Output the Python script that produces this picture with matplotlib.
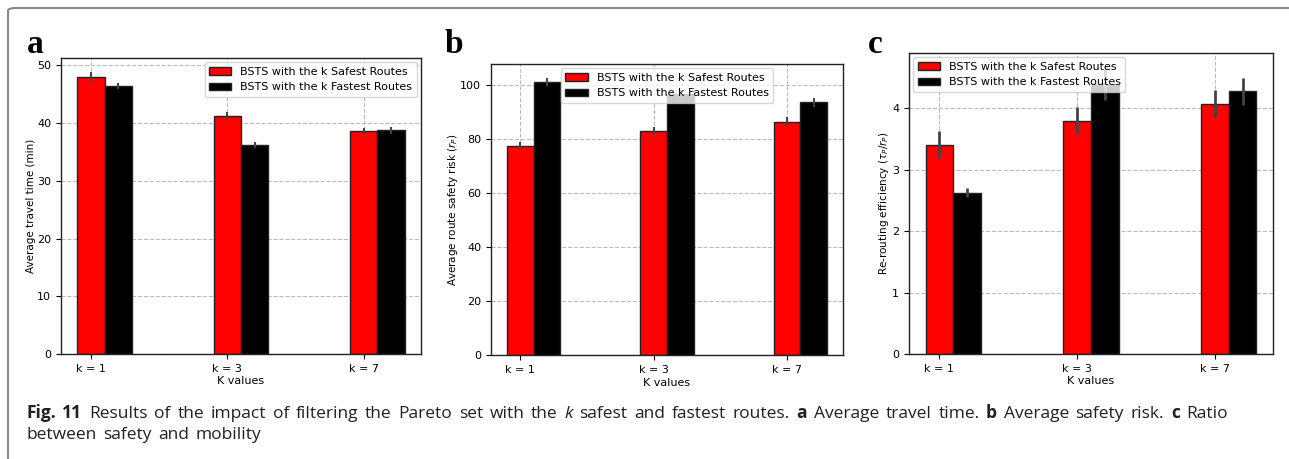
import matplotlib
matplotlib.use("Agg")
import matplotlib.pyplot as plt
from matplotlib.patches import FancyBboxPatch
import numpy as np

# data
k_labels = ['k = 1', 'k = 3', 'k = 7']

time_safe = [48.0, 41.2, 38.6]
time_safe_err = [0.85, 0.7, 0.6]
time_fast = [46.4, 36.2, 38.8]
time_fast_err = [0.5, 0.5, 0.6]

risk_safe = [77.6, 83.0, 86.6]
risk_safe_err = [1.3, 1.5, 1.5]
risk_fast = [101.2, 96.7, 93.7]
risk_fast_err = [1.6, 1.5, 1.6]

eff_safe = [3.41, 3.80, 4.08]
eff_safe_err = [0.22, 0.22, 0.22]
eff_fast = [2.63, 4.40, 4.28]
eff_fast_err = [0.07, 0.27, 0.22]

leg_labels = ['BSTS with the k Safest Routes', 'BSTS with the k Fastest Routes']

W, H = 1289, 459
fig = plt.figure(figsize=(W / 100, H / 100), dpi=100)


def box(x0, y0, x1, y1):
    # pixel box (from top-left) -> figure fraction rect
    return [x0 / W, 1 - y1 / H, (x1 - x0) / W, (y1 - y0) / H]


def panel(rect, safe, safe_err, fast, fast_err, ylabel, loc, ticks, elw):
    ax = fig.add_axes(rect)
    x = np.arange(len(k_labels))
    w = 0.2
    ekw = dict(ecolor='#444444', elinewidth=elw, capsize=0)
    ax.bar(x, safe, w, yerr=safe_err, color='red', edgecolor='#222222',
           linewidth=1, error_kw=ekw, label=leg_labels[0])
    ax.bar(x + w, fast, w, yerr=fast_err, color='black', edgecolor='#222222',
           linewidth=1, error_kw=ekw, label=leg_labels[1])
    ax.set_xticks(x)
    ax.set_xticklabels(k_labels)
    ax.set_yticks(ticks)
    ax.set_xlabel('K values', fontsize=8, labelpad=2)
    ax.set_ylabel(ylabel, fontsize=7.5, labelpad=0.5)
    ax.tick_params(labelsize=8, length=3.5)
    ax.set_axisbelow(True)
    ax.grid(True, linestyle='--', color='#bbbbbb', linewidth=0.8)
    for s in ax.spines.values():
        s.set_linewidth(1.0)
        s.set_color('#222222')
    ax.legend(loc=loc, fontsize=8, framealpha=0.8, borderaxespad=0.4)
    return ax


panel(box(61, 58, 421, 354), time_safe, time_safe_err, time_fast, time_fast_err,
      'Average travel time (min)', 'upper right', [0, 10, 20, 30, 40, 50], 1.5)
panel(box(491, 64, 843, 355), risk_safe, risk_safe_err, risk_fast, risk_fast_err,
      'Average route safety risk ($r_P$)', 'upper center', [0, 20, 40, 60, 80, 100], 1.5)
panel(box(909, 53, 1273, 354), eff_safe, eff_safe_err, eff_fast, eff_fast_err,
      r'Re-routing efficiency ($\tau_P/r_P$)', 'upper left', [0, 1, 2, 3, 4], 2)

# panel letters
for letter, px in [('a', 27), ('b', 445), ('c', 868)]:
    fig.text(px / W, 1 - 53 / H, letter, fontsize=24, fontweight='bold',
             family='Liberation Serif', va='baseline', ha='left')

# outer frame of the figure box
frame = FancyBboxPatch((8 / W, -0.2), 1.2, 1.2 - 8 / H,
                       boxstyle='round,pad=0,rounding_size=0.006',
                       transform=fig.transFigure, fill=False,
                       edgecolor='#8a8a8a', linewidth=1.5, clip_on=False)
fig.patches.append(frame)

# caption, laid out word by word so the word spacing can be set
cap_font = 'Open Sans'
cap_size = 12.5
cap_color = '#231f20'
word_gap = 4.8


def caption_line(pieces, y_px):
    prev = None
    space_before = False
    for txt, wt, st in pieces:
        words = txt.split(' ')
        for i, word in enumerate(words):
            if i > 0:
                space_before = True
            if word == '':
                continue
            kw = dict(fontsize=cap_size, fontweight=wt, fontstyle=st,
                      family=cap_font, color=cap_color, va='bottom', ha='left')
            if prev is None:
                prev = fig.text(26 / W, 1 - y_px / H, word, **kw)
            else:
                gap = word_gap if space_before else 0.3
                prev = fig.axes[0].annotate(word, xy=(1, 0), xycoords=prev,
                                            xytext=(gap, 0), textcoords='offset points',
                                            annotation_clip=False, **kw)
            space_before = False


caption_line([
    ('Fig. 11', 'bold', 'normal'),
    (' Results of the impact of filtering the Pareto set with the ', 'normal', 'normal'),
    ('k', 'normal', 'italic'),
    (' safest and fastest routes. ', 'normal', 'normal'),
    ('a', 'bold', 'normal'),
    (' Average travel time. ', 'normal', 'normal'),
    ('b', 'bold', 'normal'),
    (' Average safety risk. ', 'normal', 'normal'),
    ('c', 'bold', 'normal'),
    (' Ratio', 'normal', 'normal'),
], 422)
caption_line([('between safety and mobility', 'normal', 'normal')], 443)

fig.savefig('out.png', dpi=100)
